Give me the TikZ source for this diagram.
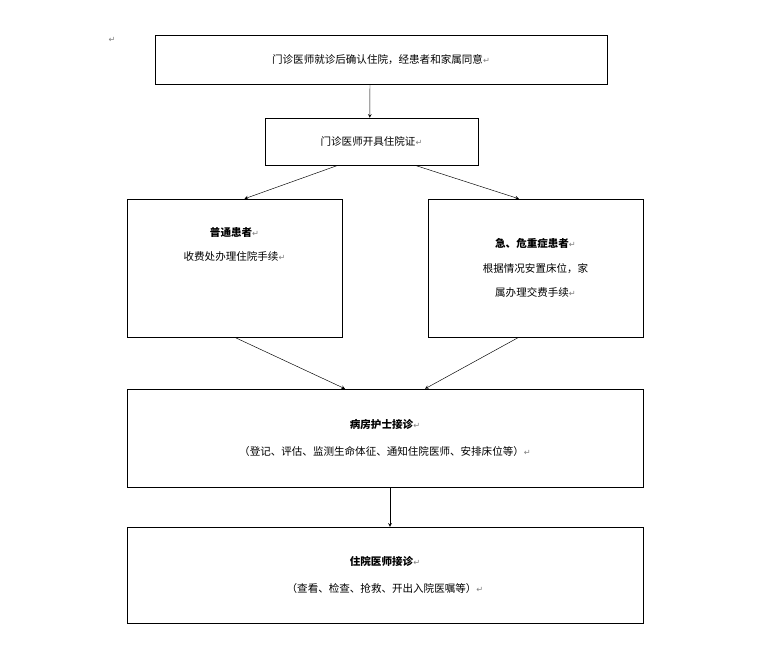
\documentclass[tikz,border=0pt]{standalone}
\usepackage{fontspec}
\setmainfont{Noto Sans CJK SC}
\newfontfamily\retfont{DejaVu Sans}
\usetikzlibrary{arrows,positioning}
\newcommand{\pmark}{{\retfont\color{gray}\scriptsize ↵}}

\begin{document}
\begin{tikzpicture}[
    x=0.03cm, y=-0.03cm,
    every node/.style={font=\small},
    flowbox/.style={
        rectangle,
        draw=black,
        align=center,
        inner sep=2pt
    },
    flow/.style={->, >=stealth, thin}
]
\useasboundingbox (0,0) rectangle (766,648);

% Word marks
\node[font=\scriptsize, gray] (mk) at (112,40) {\pmark};

% boxes
\node[flowbox, minimum width=13.56cm, minimum height=1.47cm] (confirm) at (381,59.5) {门诊医师就诊后确认住院，经患者和家属同意\pmark};
\node[flowbox, minimum width=6.39cm, minimum height=1.41cm] (cert) at (371.5,141.5) {门诊医师开具住院证\pmark};
\node[flowbox, minimum width=6.45cm, minimum height=4.14cm] (normal) at (234.5,268) {\textbf{普通患者}\pmark\\[10pt]收费处办理住院手续\pmark\\[30pt]};
\node[flowbox, minimum width=6.45cm, minimum height=4.14cm] (urgent) at (535.5,268) {\textbf{急、危重症患者}\pmark\\[10pt]根据情况安置床位，家\\[10pt]属办理交费手续\pmark};
\node[flowbox, minimum width=15.48cm, minimum height=2.94cm] (nurse) at (385,438) {\textbf{病房护士接诊}\pmark\\[12pt]（登记、评估、监测生命体征、通知住院医师、安排床位等）\pmark};
\node[flowbox, minimum width=15.48cm, minimum height=2.88cm] (doctor) at (385,575) {\textbf{住院医师接诊}\pmark\\[12pt]（查看、检查、抢救、开出入院医嘱等）\pmark};

% connectors
\draw[flow] ([xshift=-0.33cm]confirm.south) -- ([xshift=-0.05cm]cert.north);
\draw[flow] ([xshift=-1cm]cert.south) -- ([xshift=0.3cm]normal.north);
\draw[flow] ([xshift=1.3cm]cert.south) -- ([xshift=-0.5cm]urgent.north);
\draw[flow] (normal.south) -- ([xshift=-1.2cm]nurse.north);
\draw[flow] ([xshift=-0.5cm]urgent.south) -- ([xshift=1.2cm]nurse.north);
\draw[flow] ([xshift=0.15cm]nurse.south) -- ([xshift=0.15cm]doctor.north);
\end{tikzpicture}
\end{document}
